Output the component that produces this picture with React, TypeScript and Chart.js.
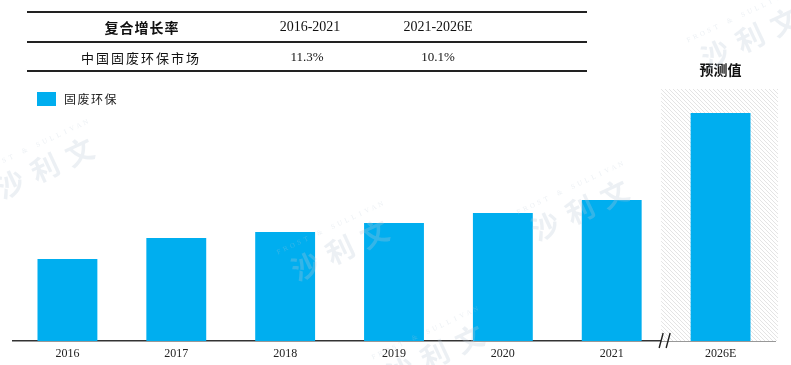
import React, { useEffect, useRef } from "react";
import { Chart, registerables } from "chart.js";

Chart.register(...registerables);

const categories = ["2016", "2017", "2018", "2019", "2020", "2021", "2026E"];
const seriesName = "固废环保";
const seriesValues = [82, 103, 109, 118, 128, 141, 228];
const yMax = 252;

const tableHeader = ["复合增长率", "2016-2021", "2021-2026E"];
const tableRow = ["中国固废环保市场", "11.3%", "10.1%"];
const forecastLabel = "预测值";

const BAR_COLOR = "#00AEEF";
const CJK = '"Noto Sans CJK SC", "Noto Sans", sans-serif';
const SERIF = '"Liberation Serif", "DejaVu Serif", serif';

const watermarkPositions = [
  [45, 168],
  [340, 250],
  [580, 210],
  [435, 355],
  [750, 38],
];

function makeHatch(ctx: CanvasRenderingContext2D) {
  const c = document.createElement("canvas");
  c.width = 4;
  c.height = 4;
  const p = c.getContext("2d")!;
  p.fillStyle = "#ffffff";
  p.fillRect(0, 0, 4, 4);
  p.strokeStyle = "#e4e4e4";
  p.lineWidth = 1;
  p.beginPath();
  p.moveTo(-1, -1);
  p.lineTo(5, 5);
  p.moveTo(-1, 3);
  p.lineTo(1, 5);
  p.moveTo(3, -1);
  p.lineTo(5, 1);
  p.stroke();
  return ctx.createPattern(c, "repeat");
}

const forecastPlugin = {
  id: "forecast",
  beforeDatasetsDraw(chart: any) {
    const { ctx, chartArea } = chart;
    const x = chart.scales.x;
    const n = categories.length;
    const xa = x.getPixelForValue(n - 2);
    const xb = x.getPixelForValue(n - 1);
    const step = xb - xa;
    const left = (xa + xb) / 2 - 5;
    const right = xb + step / 2 + 3;
    ctx.save();
    ctx.fillStyle = makeHatch(ctx) || "#eee";
    ctx.fillRect(left, chartArea.top, right - left, chartArea.bottom - chartArea.top);
    ctx.fillStyle = "#111";
    ctx.font = `bold 14px ${CJK}`;
    ctx.textAlign = "center";
    ctx.textBaseline = "middle";
    ctx.fillText(forecastLabel, xb, chartArea.top - 19);
    ctx.restore();
  },
  afterDraw(chart: any) {
    const { ctx, chartArea } = chart;
    const x = chart.scales.x;
    const n = categories.length;
    const xa = x.getPixelForValue(n - 2);
    const xb = x.getPixelForValue(n - 1);
    const mid = (xa + xb) / 2;
    const y = chartArea.bottom;
    ctx.save();
    ctx.strokeStyle = "#222";
    ctx.lineWidth = 1.4;
    ctx.beginPath();
    ctx.moveTo(mid - 7, y + 7);
    ctx.lineTo(mid - 3, y - 8);
    ctx.moveTo(mid, y + 7);
    ctx.lineTo(mid + 4, y - 8);
    ctx.stroke();
    // watermarks
    for (const [cx, cy] of watermarkPositions) {
      ctx.save();
      ctx.translate(cx, cy);
      ctx.rotate((-25 * Math.PI) / 180);
      ctx.fillStyle = "rgba(185,200,215,0.28)";
      ctx.font = `bold 28px ${CJK}`;
      ctx.textAlign = "center";
      ctx.textBaseline = "middle";
      const chars = ["沙", "利", "文"];
      chars.forEach((ch, i) => ctx.fillText(ch, (i - 1) * 38, 0));
      ctx.font = `7px ${SERIF}`;
      const small = "FROST & SULLIVAN".split("");
      small.forEach((ch, i) => ctx.fillText(ch, (i - 7.5) * 7.5, -24));
      ctx.restore();
    }
    ctx.restore();
  },
};

export default function App() {
  const ref = useRef<HTMLCanvasElement>(null);
  useEffect(() => {
    const chart = new Chart(ref.current!, {
      type: "bar",
      data: {
        labels: categories,
        datasets: [
          {
            label: seriesName,
            data: seriesValues,
            backgroundColor: BAR_COLOR,
            barPercentage: 0.55,
            categoryPercentage: 1,
          },
        ],
      },
      options: {
        animation: false,
        responsive: false,
        layout: { padding: { left: 13, right: 16, top: 89, bottom: 0 } },
        plugins: { legend: { display: false }, tooltip: { enabled: false } },
        scales: {
          x: {
            grid: { display: false, drawTicks: false },
            border: { display: true, color: "#333", width: 1.5 },
            ticks: { color: "#222", font: { family: SERIF, size: 12 }, padding: 6 },
            afterFit: (s: any) => {
              s.height = 24;
            },
          },
          y: {
            display: false,
            min: 0,
            max: yMax,
          },
        },
      },
      plugins: [forecastPlugin],
    });
    return () => chart.destroy();
  }, []);

  const text: React.CSSProperties = { position: "absolute", transform: "translate(-50%, -50%)", whiteSpace: "nowrap", color: "#111" };
  return (
    <div style={{ position: "absolute", left: 0, top: 0, width: 791, height: 365, background: "#fff" }}>
      <canvas ref={ref} width={791} height={365} style={{ position: "absolute", left: 0, top: 0 }} />
      <div style={{ position: "absolute", left: 27, top: 11, width: 560, height: 2, background: "#222" }} />
      <div style={{ position: "absolute", left: 27, top: 41, width: 560, height: 1.5, background: "#222" }} />
      <div style={{ position: "absolute", left: 27, top: 70, width: 560, height: 1.5, background: "#222" }} />
      <div style={{ ...text, left: 142, top: 27, font: `bold 14px ${CJK}`, letterSpacing: 1 }}>{tableHeader[0]}</div>
      <div style={{ ...text, left: 310, top: 27, font: `14px ${SERIF}` }}>{tableHeader[1]}</div>
      <div style={{ ...text, left: 438, top: 27, font: `14px ${SERIF}` }}>{tableHeader[2]}</div>
      <div style={{ ...text, left: 141, top: 57, font: `13px ${CJK}`, letterSpacing: 2 }}>{tableRow[0]}</div>
      <div style={{ ...text, left: 307, top: 57, font: `13px ${SERIF}` }}>{tableRow[1]}</div>
      <div style={{ ...text, left: 438, top: 57, font: `13px ${SERIF}` }}>{tableRow[2]}</div>
      <div style={{ position: "absolute", left: 37, top: 92, width: 19, height: 14, background: BAR_COLOR }} />
      <div style={{ position: "absolute", left: 64, top: 91, font: `12px ${CJK}`, color: "#222", letterSpacing: 1.5, lineHeight: "16px" }}>{seriesName}</div>
    </div>
  );
}
